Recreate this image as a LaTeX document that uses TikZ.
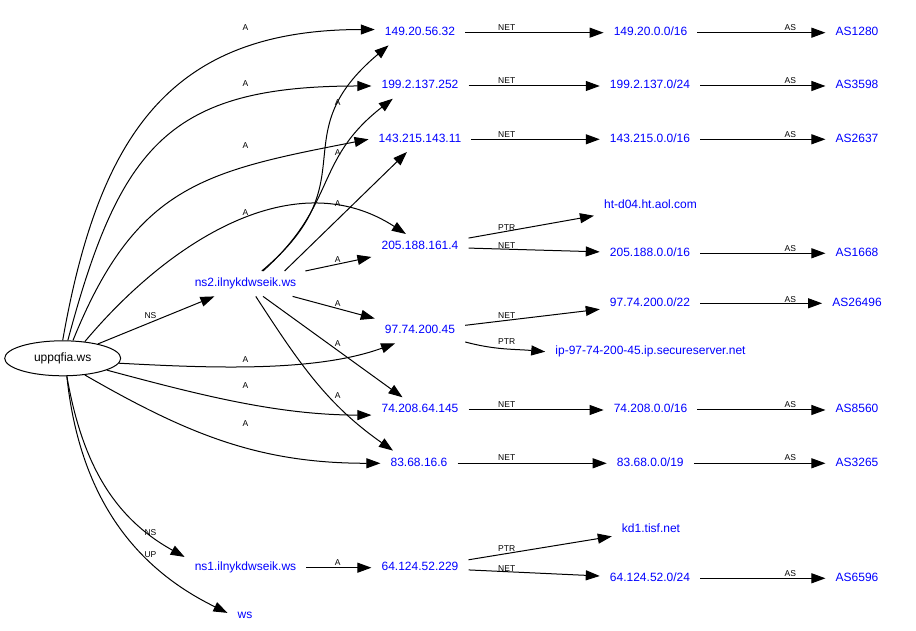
\documentclass[tikz,border=0pt]{standalone}
\usepackage{fontspec}
\setmainfont{Liberation Sans}
\usetikzlibrary{arrows.meta,shapes.geometric}

\begin{document}
\begin{tikzpicture}[x=1pt,y=1pt,
		host/.style={text=blue,font=\fontsize{12}{14}\selectfont,inner xsep=10pt,inner ysep=6.5pt,text height=9pt,text depth=3pt},
		lbl/.style={font=\fontsize{8.5}{10}\selectfont,inner sep=0pt},
		arr/.style={line width=1pt,-{Triangle[length=14pt,width=10pt]}}]
		\useasboundingbox (0,0) rectangle (916,631);
		\node (O) at (62.7,272.7) [draw,line width=1pt,ellipse,minimum width=116pt,minimum height=35pt,inner sep=0pt,font=\fontsize{12}{14}\selectfont] {uppqfia.ws};
		\node (ns2) at (245.5,347.3) [host] {ns2.ilnykdwseik.ws};
		\node (ns1) at (245.5,63.3) [host] {ns1.ilnykdwseik.ws};
		\node (ws) at (245,15) [host] {ws};
		
		\node (ip1) at (420,598.3) [host] {149.20.56.32};
		\node (ip2) at (420,545) [host] {199.2.137.252};
		\node (ip3) at (420,491.7) [host] {143.215.143.11};
		\node (ip4) at (420,384.3) [host] {205.188.161.4};
		\node (ip5) at (420,300.3) [host] {97.74.200.45};
		\node (ip6) at (420,221) [host] {74.208.64.145};
		\node (ip7) at (419,167.7) [host] {83.68.16.6};
		\node (ip8) at (420,63.3) [host] {64.124.52.229};
		
		\node (net1) at (650.5,598.3) [host] {149.20.0.0/16};
		\node (net2) at (650,545) [host] {199.2.137.0/24};
		\node (net3) at (650,491.7) [host] {143.215.0.0/16};
		\node (ptr4) at (650.5,425.3) [host] {ht-d04.ht.aol.com};
		\node (net4) at (650,377.7) [host] {205.188.0.0/16};
		\node (net5) at (650,327.7) [host] {97.74.200.0/22};
		\node (ptr5) at (650.5,279.3) [host] {ip-97-74-200-45.ip.secureserver.net};
		\node (net6) at (650.5,221) [host] {74.208.0.0/16};
		\node (net7) at (650.3,167.7) [host] {83.68.0.0/19};
		\node (ptr8) at (651,101) [host] {kd1.tisf.net};
		\node (net8) at (650,52.7) [host] {64.124.52.0/24};
		
		\node (as1) at (857,598.3) [host] {AS1280};
		\node (as2) at (857,545) [host] {AS3598};
		\node (as3) at (857,491.7) [host] {AS2637};
		\node (as4) at (857,377.7) [host] {AS1668};
		\node (as5) at (857,327.7) [host] {AS26496};
		\node (as6) at (857,221) [host] {AS8560};
		\node (as7) at (857,167.7) [host] {AS3265};
		\node (as8) at (857,52.7) [host] {AS6596};
		
		\draw[arr] (O.90) to[out=80,in=180,looseness=1.2] (ip1.176);
		\draw[arr] (O.74) to[out=75,in=180,looseness=1.3] (ip2.west);
		\draw[arr] (O.60) to[out=68,in=191,looseness=1.2] (ip3.west);
		\draw[arr] (O.37) to[out=50,in=147] (ip4.138);
		\draw[arr] (O) -- (ns2);
		\draw[arr] (O.-5) to[out=-3,in=200,looseness=0.8] (ip5.207);
		\draw[arr] (O.-15) to[out=-15,in=180,looseness=0.9] (ip6.186);
		\draw[arr] (O.-37) to[out=-30,in=180] (ip7.west);
		\draw[arr] (O.-77) to[out=-80,in=151] (ns1.170);
		\draw[arr] (O.-77) to[out=-84,in=154] (ws.170);
		
		\draw[arr] (ns2.38) to[out=40,in=220,looseness=1.4] (ip1.202);
		\draw[arr] (ns2.36) to[out=42,in=218,looseness=1.2] (ip2.205);
		\draw[arr] (ns2.18) -- (ip3);
		\draw[arr] (ns2) -- (ip4);
		\draw[arr] (ns2) -- (ip5);
		\draw[arr] (ns2) -- (ip6);
		\draw[arr] (ns2.-51) to[out=-57,in=145] (ip7.154);
		\draw[arr] (ns1) -- (ip8);
		
		\draw[arr] (ip1) -- (net1);
		\draw[arr] (ip2) -- (net2);
		\draw[arr] (ip3) -- (net3);
		\draw[arr] (ip4) -- (ptr4);
		\draw[arr] (ip4) -- (net4);
		\draw[arr] (ip5) -- (net5);
		\draw[arr] (ip5.-14) to[out=-15,in=175] (ptr5.west);
		\draw[arr] (ip6) -- (net6);
		\draw[arr] (ip7) -- (net7);
		\draw[arr] (ip8) -- (ptr8);
		\draw[arr] (ip8) -- (net8);
		
		\draw[arr] (net1) -- (as1);
		\draw[arr] (net2) -- (as2);
		\draw[arr] (net3) -- (as3);
		\draw[arr] (net4) -- (as4);
		\draw[arr] (net5) -- (as5);
		\draw[arr] (net6) -- (as6);
		\draw[arr] (net7) -- (as7);
		\draw[arr] (net8) -- (as8);
		
		\node (la1) at (245.5,603.3) [lbl] {A};
		\node (la2) at (245.5,547) [lbl] {A};
		\node (la3) at (245.5,485.7) [lbl] {A};
		\node (la4) at (245.5,418.7) [lbl] {A};
		\node (lns2) at (150.5,315) [lbl] {NS};
		\node (la5) at (245.5,271) [lbl] {A};
		\node (la6) at (245.5,245) [lbl] {A};
		\node (la7) at (245.5,207) [lbl] {A};
		\node (lns1) at (150.5,98.7) [lbl] {NS};
		\node (lup) at (150.5,76.7) [lbl] {UP};
		
		\node (lb1) at (337.7,528.3) [lbl] {A};
		\node (lb2) at (337.7,478.3) [lbl] {A};
		\node (lb3) at (337.7,427.7) [lbl] {A};
		\node (lb4) at (337.7,371) [lbl] {A};
		\node (lb5) at (337.7,327.7) [lbl] {A};
		\node (lb6) at (337.7,287.7) [lbl] {A};
		\node (lb7) at (337.7,235) [lbl] {A};
		\node (lb8) at (337.7,68.3) [lbl] {A};
		
		\node (ln1) at (506.7,603.3) [lbl] {NET};
		\node (ln2) at (506.7,550) [lbl] {NET};
		\node (ln3) at (506.7,496) [lbl] {NET};
		\node (lp4) at (506.7,403.7) [lbl] {PTR};
		\node (ln4) at (506.7,385.3) [lbl] {NET};
		\node (ln5) at (506.7,315) [lbl] {NET};
		\node (lp5) at (506.7,289.3) [lbl] {PTR};
		\node (ln6) at (506.7,226) [lbl] {NET};
		\node (ln7) at (506.7,173) [lbl] {NET};
		\node (lp8) at (506.7,82.7) [lbl] {PTR};
		\node (ln8) at (506.7,62.7) [lbl] {NET};
		
		\node (ls1) at (790.3,603.3) [lbl] {AS};
		\node (ls2) at (790.3,550) [lbl] {AS};
		\node (ls3) at (790.3,496) [lbl] {AS};
		\node (ls4) at (790.3,382.7) [lbl] {AS};
		\node (ls5) at (790.3,331.7) [lbl] {AS};
		\node (ls6) at (790.3,226) [lbl] {AS};
		\node (ls7) at (790.3,173) [lbl] {AS};
		\node (ls8) at (790.3,57.7) [lbl] {AS};
	\end{tikzpicture}
\end{document}
